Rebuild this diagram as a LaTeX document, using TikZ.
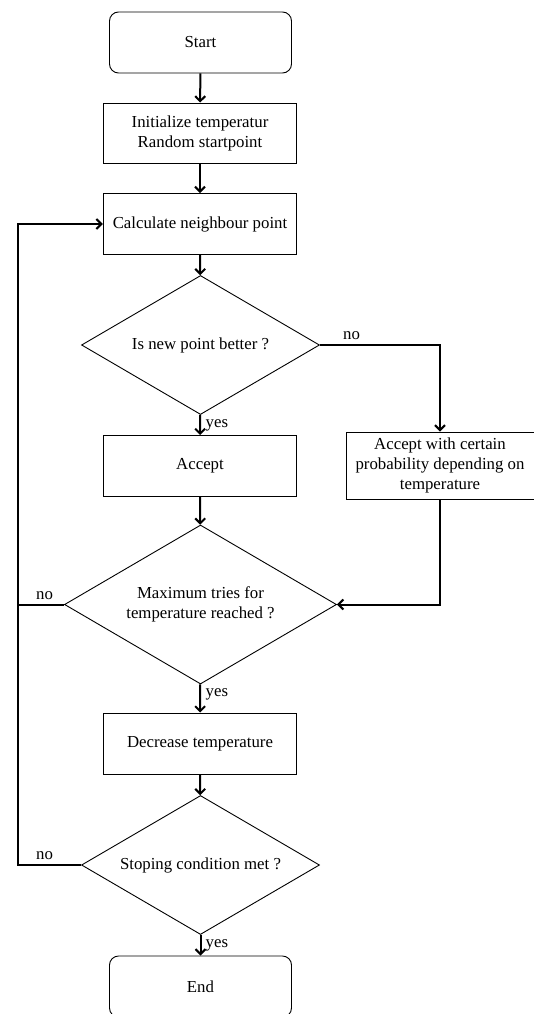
\documentclass[tikz,border=0pt]{standalone}
\usepackage{fontspec}
\setmainfont{Liberation Serif}
\usetikzlibrary{shapes.geometric,arrows.meta}
\begin{document}
\begin{tikzpicture}[x=1pt,y=-1pt,
  font=\fontsize{16.8}{20}\selectfont,
  base/.style={draw=black, line width=0.9pt, align=center, inner sep=0pt},
  procbox/.style={base, rectangle, minimum width=193.5pt, minimum height=61pt},
  termbox/.style={base, rectangle, rounded corners=9pt, minimum width=182pt, minimum height=61pt},
  decbox/.style={base, diamond, aspect=1.7, minimum width=238pt, minimum height=139pt},
  conn/.style={line width=2pt, -{Straight Barb[length=5pt,width=10pt]}},
  plainline/.style={line width=2pt},
  lbl/.style={inner sep=0pt}]
\useasboundingbox (0,0) rectangle (534,1014);

\node[termbox] (start) at (200.5,42.5) {Start};
\node[procbox, minimum height=60pt] (init) at (200,133) {Initialize temperatur\\Random startpoint};
\node[procbox] (calc) at (200,224) {Calculate neighbour point};
\node[decbox] (d1) at (200.5,345) {Is new point better ?};
\node[procbox] (acc) at (200,466) {Accept};
\node[base, rectangle, minimum width=188pt, minimum height=67pt] (prob) at (440,465.5) {Accept with certain\\probability depending on\\temperature};
\node[decbox, minimum width=272pt, minimum height=159pt] (d2) at (200.5,604.5) {Maximum tries for\\temperature reached ?};
\node[procbox] (dec) at (200,743.5) {Decrease temperature};
\node[decbox] (d3) at (200.5,865) {Stoping condition met ?};
\node[termbox] (end) at (200.5,986.5) {End};

\coordinate (lc) at (18,224);

\draw[conn] (start) -- (init);
\draw[conn] (init) -- (calc);
\draw[conn] (calc) -- (d1);
\draw[conn] (d1) -- (acc);
\draw[conn] (d1.east) -| (prob.north);
\draw[conn] (acc) -- (d2);
\draw[conn] (prob.south) |- (d2.east);
\draw[conn] (d2) -- (dec);
\draw[conn] (dec) -- (d3);
\draw[conn] (d3) -- (end);
\draw[conn] (d3.west) -| (lc) -- (calc.west);
\draw[plainline] (d2.west) -- (d2.west -| lc);

\node[lbl, anchor=south west] (no1) at ([xshift=23pt,yshift=5pt]d1.east) {no};
\node[lbl, anchor=south west] (no2) at ([xshift=18pt,yshift=5pt]d2.west -| lc) {no};
\node[lbl, anchor=south west] (no3) at ([xshift=18pt,yshift=5pt]d3.west -| lc) {no};
\node[lbl, anchor=north west] (yes1) at ([xshift=5pt,yshift=-4pt]d1.south) {yes};
\node[lbl, anchor=north west] (yes2) at ([xshift=5pt,yshift=-4pt]d2.south) {yes};
\node[lbl, anchor=north west] (yes3) at ([xshift=5pt,yshift=-4pt]d3.south) {yes};
\end{tikzpicture}
\end{document}
